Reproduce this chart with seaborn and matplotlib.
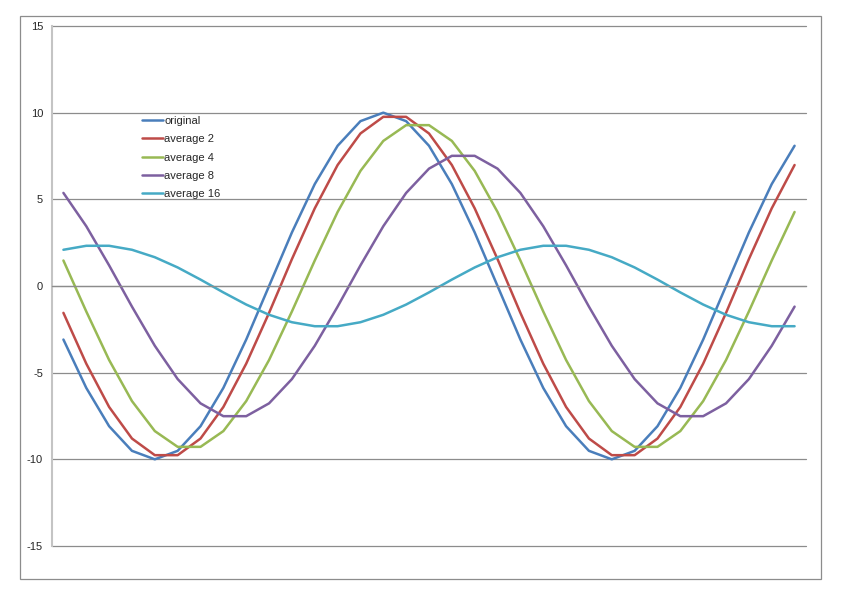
import pandas as pd
import matplotlib
matplotlib.use("Agg")
import matplotlib.pyplot as plt
from matplotlib.patches import Rectangle
import seaborn as sns

# values, one point per category (33 categories)
original = [-3.09, -5.88, -8.09, -9.51, -10.0, -9.51, -8.09, -5.88, -3.09, 0.0,
            3.09, 5.88, 8.09, 9.51, 10.0, 9.51, 8.09, 5.88, 3.09, 0.0,
            -3.09, -5.88, -8.09, -9.51, -10.0, -9.51, -8.09, -5.88, -3.09, 0.0,
            3.09, 5.88, 8.09]
average_2 = [-1.55, -4.48, -6.98, -8.80, -9.76, -9.76, -8.80, -6.98, -4.48, -1.55,
             1.55, 4.48, 6.98, 8.80, 9.76, 9.76, 8.80, 6.98, 4.48, 1.55,
             -1.55, -4.48, -6.98, -8.80, -9.76, -9.76, -8.80, -6.98, -4.48, -1.55,
             1.55, 4.48, 6.98]
average_4 = [1.47, -1.47, -4.27, -6.64, -8.37, -9.28, -9.28, -8.37, -6.64, -4.27,
             -1.47, 1.47, 4.27, 6.64, 8.37, 9.28, 9.28, 8.37, 6.64, 4.27,
             1.47, -1.47, -4.27, -6.64, -8.37, -9.28, -9.28, -8.37, -6.64, -4.27,
             -1.47, 1.47, 4.27]
average_8 = [5.37, 3.45, 1.19, -1.19, -3.45, -5.37, -6.77, -7.51, -7.51, -6.77,
             -5.37, -3.45, -1.19, 1.19, 3.45, 5.37, 6.77, 7.51, 7.51, 6.77,
             5.37, 3.45, 1.19, -1.19, -3.45, -5.37, -6.77, -7.51, -7.51, -6.77,
             -5.37, -3.45, -1.19]
average_16 = [2.09, 2.32, 2.32, 2.09, 1.66, 1.07, 0.37, -0.37, -1.07, -1.66,
              -2.09, -2.32, -2.32, -2.09, -1.66, -1.07, -0.37, 0.37, 1.07, 1.66,
              2.09, 2.32, 2.32, 2.09, 1.66, 1.07, 0.37, -0.37, -1.07, -1.66,
              -2.09, -2.32, -2.32]

series_names = ["original", "average 2", "average 4", "average 8", "average 16"]
series_values = [original, average_2, average_4, average_8, average_16]
colors = ["#4A7EBB", "#BE4B48", "#98B954", "#7D60A0", "#46AAC5"]
y_ticks = [-15, -10, -5, 0, 5, 10, 15]

rows = []
for name, vals in zip(series_names, series_values):
    for i, v in enumerate(vals):
        rows.append({"point": i, "value": v, "series": name})
df = pd.DataFrame(rows)

sns.set_style("white")
plt.rcParams["font.family"] = ["Liberation Sans", "DejaVu Sans"]

fig = plt.figure(figsize=(8.42, 5.95), dpi=100)
ax = fig.add_axes([52 / 842, 1 - 546 / 595, (806 - 52) / 842, (546 - 26) / 595])

# outer chart border
fig.patches.append(Rectangle((20 / 842, 1 - 579 / 595), 801 / 842, 563 / 595,
                             transform=fig.transFigure, fill=False,
                             edgecolor="#8c8c8c", linewidth=0.9))

sns.lineplot(data=df, x="point", y="value", hue="series", hue_order=series_names,
             palette=colors, linewidth=1.8, ax=ax)

n = len(original)
ax.set_xlim(-0.5, n - 0.5)
ax.set_ylim(-15, 15)
ax.set_yticks(y_ticks)
ax.set_yticklabels([str(t) for t in y_ticks], fontsize=8)
ax.yaxis.grid(True, color="#8c8c8c", linewidth=0.9)
for gl in ax.yaxis.get_gridlines():
    gl.set_clip_on(False)
ax.set_axisbelow(True)
ax.tick_params(axis="y", length=4, color="#8c8c8c", pad=2.5)

# category axis crosses at zero with cross tick marks between categories
ax.spines["bottom"].set_position(("data", 0))
ax.spines["bottom"].set_color("#8c8c8c")
ax.spines["bottom"].set_linewidth(0.9)
ax.set_xticks([i - 0.5 for i in range(n + 1)])
ax.set_xticklabels([])
ax.tick_params(axis="x", direction="inout", length=6, color="#8c8c8c", width=0.9)
ax.spines["left"].set_color("#c4c4c4")
ax.spines["left"].set_linewidth(1.5)
ax.spines["top"].set_visible(False)
ax.spines["right"].set_visible(False)
ax.set_xlabel("")
ax.set_ylabel("")

leg = ax.legend(loc="upper left", bbox_to_anchor=(142 / 842, 1 - 116 / 595),
                bbox_transform=fig.transFigure, frameon=False, fontsize=8,
                handlelength=1.9, handletextpad=0.1, labelspacing=0.75,
                borderpad=0, borderaxespad=0)
for line in leg.get_lines():
    line.set_linewidth(1.8)

fig.savefig("out.png", dpi=100)
